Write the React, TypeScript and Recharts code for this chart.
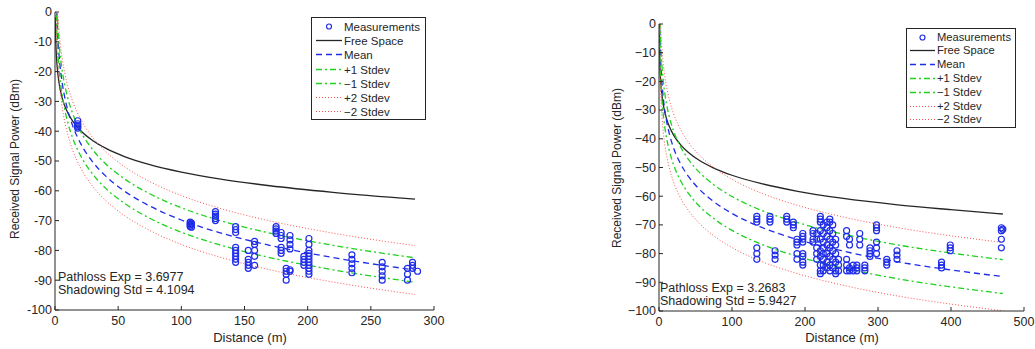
import React from "react";
import { ComposedChart, Line, Scatter, XAxis, YAxis } from "recharts";

const FONT = "'Liberation Sans', Arial, Helvetica, sans-serif";
const INK = "#262626";
const BLUE = "#1f2de8";
const GREEN = "#1ed21e";
const RED = "#ff5050";

// ---- left panel (0..300 m) ----
const leftDist = [0.25, 0.5, 1, 1.5, 2, 3, 4, 6, 8, 10, 14, 20, 30, 40, 55, 75, 100, 130, 170, 220, 285];
const leftFree = [-1.7, -7.7, -13.7, -17.2, -19.7, -23.2, -25.7, -29.3, -31.8, -33.7, -36.6, -39.7, -43.2, -45.7, -48.5, -51.2, -53.7, -56.0, -58.3, -60.5, -62.8];
const leftMean = [26.5, 15.3, 4.2, -2.3, -6.9, -13.4, -18.1, -24.6, -29.2, -32.8, -38.2, -43.9, -50.4, -55.0, -60.1, -65.1, -69.8, -74.0, -78.3, -82.4, -86.6];
const leftPlus1 = [30.6, 19.4, 8.3, 1.8, -2.8, -9.3, -14.0, -20.5, -25.1, -28.7, -34.1, -39.8, -46.3, -50.9, -56.0, -61.0, -65.7, -69.9, -74.2, -78.3, -82.5];
const leftMinus1 = [22.4, 11.2, 0.1, -6.4, -11.0, -17.5, -22.2, -28.7, -33.3, -36.9, -42.3, -48.0, -54.5, -59.1, -64.2, -69.2, -73.9, -78.1, -82.4, -86.5, -90.7];
const leftPlus2 = [34.7, 23.5, 12.4, 5.9, 1.3, -5.2, -9.9, -16.4, -21.0, -24.6, -30.0, -35.7, -42.2, -46.8, -51.9, -56.9, -61.6, -65.8, -70.1, -74.2, -78.4];
const leftMinus2 = [18.3, 7.1, -4.0, -10.5, -15.1, -21.6, -26.3, -32.8, -37.4, -41.0, -46.4, -52.1, -58.6, -63.2, -68.3, -73.3, -78.0, -82.2, -86.5, -90.6, -94.8];

const leftMeasDist = [18, 107, 108, 127, 143, 153, 158, 175, 179, 183, 186, 197, 201, 235, 259, 279, 283, 287];
const leftMeasPower = [
  [-36.5, -37.5, -38, -38.5, -39],
  [-70.5, -71, -71.5, -72],
  [-70.8, -71.3, -72.2],
  [-67, -67.8, -68.5, -69.3, -70],
  [-72, -73, -74, -79, -80, -81, -82, -83, -84],
  [-80, -83, -84, -85, -86],
  [-77, -78, -80, -82, -85],
  [-72, -72.8, -73.5, -74.3],
  [-74, -75, -76, -79, -80, -81],
  [-86, -87, -88, -90],
  [-75, -76.5, -78, -79.5, -86.5, -87],
  [-82, -83, -84, -85],
  [-76, -78, -80, -81, -82, -83, -84, -85, -86, -87, -88],
  [-81.5, -83, -84.5, -86, -87.5],
  [-84, -85.5, -87, -88.5, -90],
  [-86, -88, -90],
  [-84, -85, -86],
  [-87],
];
const leftXTicks = [0, 50, 100, 150, 200, 250, 300];

// ---- right panel (0..500 m) ----
const rightDist = [0.25, 0.5, 1, 1.5, 2, 3, 4, 6, 8, 10, 14, 20, 30, 40, 55, 75, 100, 140, 190, 250, 330, 400, 471];
const rightFree = [-0.7, -6.7, -12.7, -16.2, -18.7, -22.2, -24.7, -28.3, -30.8, -32.7, -35.6, -38.7, -42.2, -44.7, -47.5, -50.2, -52.7, -55.6, -58.3, -60.7, -63.1, -64.7, -66.2];
const rightMean = [19.0, 9.2, -0.6, -6.4, -10.5, -16.2, -20.3, -26.1, -30.2, -33.3, -38.1, -43.2, -48.9, -53.0, -57.5, -61.9, -66.0, -70.8, -75.1, -79.0, -83.0, -85.7, -88.0];
const rightPlus1 = [24.9, 15.1, 5.3, -0.5, -4.6, -10.3, -14.4, -20.2, -24.3, -27.4, -32.2, -37.3, -43.0, -47.1, -51.6, -56.0, -60.1, -64.9, -69.2, -73.1, -77.1, -79.8, -82.1];
const rightMinus1 = [13.1, 3.3, -6.5, -12.3, -16.4, -22.1, -26.2, -32.0, -36.1, -39.2, -44.0, -49.1, -54.8, -58.9, -63.4, -67.8, -71.9, -76.7, -81.0, -84.9, -88.9, -91.6, -93.9];
const rightPlus2 = [30.9, 21.1, 11.3, 5.5, 1.4, -4.3, -8.4, -14.2, -18.3, -21.4, -26.2, -31.3, -37.0, -41.1, -45.6, -50.0, -54.1, -58.9, -63.2, -67.1, -71.1, -73.8, -76.1];
const rightMinus2 = [7.1, -2.7, -12.5, -18.3, -22.4, -28.1, -32.2, -38.0, -42.1, -45.2, -50.0, -55.1, -60.8, -64.9, -69.4, -73.8, -77.9, -82.7, -87.0, -90.9, -94.9, -97.6, -99.9];

const rightMeasDist = [134, 152, 159, 175, 184, 189, 197, 211, 216, 221, 225, 230, 234, 238, 242, 246, 257, 261, 266, 271, 275, 282, 289, 298, 312, 326, 387, 399, 469, 471];
const rightMeasPower = [
  [-67, -68, -69, -78, -80, -82],
  [-67, -68, -69],
  [-79, -80.5, -82],
  [-67, -68, -69],
  [-69, -70, -71],
  [-75, -76, -77, -80, -82],
  [-73, -74, -75, -76, -80, -81, -83, -84],
  [-72, -73, -75, -76],
  [-73, -75, -78, -80, -82],
  [-67, -68, -69, -72, -75, -79, -81, -84, -86, -87],
  [-70, -73, -76, -78, -80, -82, -84, -86],
  [-69, -71, -74, -77, -80, -83, -85],
  [-68, -69, -72, -75, -78, -81, -84, -86],
  [-70, -73, -76, -79, -82, -85],
  [-75, -77, -80, -83, -86, -87],
  [-82, -84, -86],
  [-72, -74, -82, -84, -86],
  [-75, -77, -85, -86],
  [-84, -86],
  [-84, -85, -86],
  [-73, -75, -77],
  [-84, -85, -86],
  [-78, -79, -80, -81],
  [-70, -71, -72, -76, -78, -80],
  [-82, -83, -84],
  [-79, -80.5, -82],
  [-83, -84, -85],
  [-77, -78, -79],
  [-71, -72, -75, -78],
  [-71.5],
];
const rightXTicks = [0, 100, 200, 300, 400, 500];

const yTicks = [-100, -90, -80, -70, -60, -50, -40, -30, -20, -10, 0];
const legendNames = ["Measurements", "Free Space", "Mean", "+1 Stdev", "\u22121 Stdev", "+2 Stdev", "\u22122 Stdev"];

const seriesStyle = [
  { key: "free", stroke: INK, dash: undefined, width: 1.3 },
  { key: "mean", stroke: BLUE, dash: "6 4", width: 1.3 },
  { key: "p1", stroke: GREEN, dash: "6 3 2 3", width: 1.3 },
  { key: "m1", stroke: GREEN, dash: "6 3 2 3", width: 1.3 },
  { key: "p2", stroke: RED, dash: "1 2", width: 1 },
  { key: "m2", stroke: RED, dash: "1 2", width: 1 },
];

const Ring = (p: any) => <circle cx={p.cx} cy={p.cy} r={3} fill="none" stroke={BLUE} strokeWidth={1.2} />;

function YTick({ x, y, payload, unicodeMinus }: any) {
  const v = payload.value as number;
  const label = unicodeMinus && v < 0 ? "\u2212" + Math.abs(v) : String(v);
  return (
    <g>
      <line x1={x + 3} x2={x + 7} y1={y} y2={y} stroke={INK} />
      <text x={x} y={y} dy="0.35em" textAnchor="end" fontSize={12.5} fill={INK} fontFamily={FONT}>{label}</text>
    </g>
  );
}

function XTick({ x, y, payload, margin }: any) {
  return (
    <g>
      <line x1={x} x2={x} y1={y - margin} y2={y - margin - 4} stroke={INK} />
      <text x={x} y={y} dy="0.71em" textAnchor="middle" fontSize={12.5} fill={INK} fontFamily={FONT}>{payload.value}</text>
    </g>
  );
}

function LegendBox({ left, top, width, height, rowTop, rowStep, x1, x2, textX, fontSize }: any) {
  return (
    <svg style={{ position: "absolute", left, top }} width={width} height={height}>
      <rect x={0.5} y={0.5} width={width - 1} height={height - 1} fill="#fff" stroke={INK} strokeWidth={1} />
      {legendNames.map((name, i) => {
        const y = Math.round(rowTop + i * rowStep) + 0.5;
        const st = seriesStyle[i - 1];
        return (
          <g key={name}>
            {i === 0 ? (
              <circle cx={(x1 + x2) / 2} cy={y} r={2.5} fill="none" stroke={BLUE} strokeWidth={1.2} />
            ) : (
              <line x1={x1} x2={x2} y1={y} y2={y} stroke={st.stroke} strokeWidth={st.width} strokeDasharray={st.dash} />
            )}
            <text x={textX} y={y} dy="0.35em" fontSize={fontSize} fill={INK} fontFamily={FONT}>{name}</text>
          </g>
        );
      })}
    </svg>
  );
}

function Panel(props: any) {
  const { dist, free, mean, p1, m1, p2, m2, measDist, measPower, xMax, xTicks, left, width, margin, unicodeMinus } = props;
  const rows = dist.map((d: number, i: number) => ({ d, free: free[i], mean: mean[i], p1: p1[i], m1: m1[i], p2: p2[i], m2: m2[i] }));
  const meas = measDist.flatMap((d: number, i: number) => measPower[i].map((p: number) => ({ d, p })));
  return (
    <div style={{ position: "absolute", left, top: 0 }}>
      <ComposedChart width={width} height={349} data={rows} margin={margin}>
        <XAxis dataKey="d" type="number" domain={[0, xMax]} ticks={xTicks} allowDataOverflow
          axisLine={{ stroke: INK }} tickLine={false} tickSize={0} tickMargin={6} height={38}
          tick={(t: any) => <XTick {...t} margin={6} />} interval={0} />
        <YAxis type="number" domain={[-100, 0]} ticks={yTicks} allowDataOverflow width={45}
          axisLine={{ stroke: INK }} tickLine={false} tickSize={0} tickMargin={3}
          tick={(t: any) => <YTick {...t} unicodeMinus={unicodeMinus} />} interval={0} />
        <Scatter data={meas} dataKey="p" shape={Ring} isAnimationActive={false} />
        {seriesStyle.map((s) => (
          <Line key={s.key} type="monotone" dataKey={s.key} stroke={s.stroke} strokeWidth={s.width}
            strokeDasharray={s.dash} dot={false} activeDot={false} isAnimationActive={false} />
        ))}
      </ComposedChart>
    </div>
  );
}

const txt: React.CSSProperties = { position: "absolute", fontFamily: FONT, color: INK, whiteSpace: "nowrap", lineHeight: 1 };

export default function App() {
  return (
    <div style={{ position: "absolute", left: 0, top: 0, width: 1035, height: 349, background: "#fff", overflow: "hidden" }}>
      <Panel dist={leftDist} free={leftFree} mean={leftMean} p1={leftPlus1} m1={leftMinus1} p2={leftPlus2} m2={leftMinus2}
        measDist={leftMeasDist} measPower={leftMeasPower} xMax={300} xTicks={leftXTicks}
        left={0} width={520} margin={{ top: 12, right: 86, left: 10, bottom: 1 }} unicodeMinus={false} />
      <Panel dist={rightDist} free={rightFree} mean={rightMean} p1={rightPlus1} m1={rightMinus1} p2={rightPlus2} m2={rightMinus2}
        measDist={rightMeasDist} measPower={rightMeasPower} xMax={500} xTicks={rightXTicks}
        left={560} width={475} margin={{ top: 24, right: 11, left: 54, bottom: 0 }} unicodeMinus={true} />

      <LegendBox left={311} top={17} width={115} height={103} rowTop={9} rowStep={14.2} x1={5} x2={31} textX={33} fontSize={11.5} />
      <LegendBox left={906} top={28} width={110} height={100} rowTop={8.7} rowStep={13.77} x1={4} x2={29} textX={31} fontSize={11.2} />

      {/* axis titles */}
      <div style={{ ...txt, left: 250, top: 337, fontSize: 13, transform: "translate(-50%,-50%)" }}>Distance (m)</div>
      <div style={{ ...txt, left: 842, top: 337, fontSize: 13, transform: "translate(-50%,-50%)" }}>Distance (m)</div>
      <div style={{ ...txt, left: 15, top: 159, fontSize: 12, transform: "translate(-50%,-50%) rotate(-90deg)" }}>Received Signal Power (dBm)</div>
      <div style={{ ...txt, left: 617, top: 168, fontSize: 12, transform: "translate(-50%,-50%) rotate(-90deg)" }}>Received Signal Power (dBm)</div>

      {/* fit annotations */}
      <div style={{ ...txt, left: 58, top: 271, fontSize: 12.5 }}>Pathloss Exp = 3.6977<br />Shadowing Std = 4.1094</div>
      <div style={{ ...txt, left: 660, top: 282, fontSize: 12.5 }}>Pathloss Exp = 3.2683<br />Shadowing Std = 5.9427</div>
    </div>
  );
}
